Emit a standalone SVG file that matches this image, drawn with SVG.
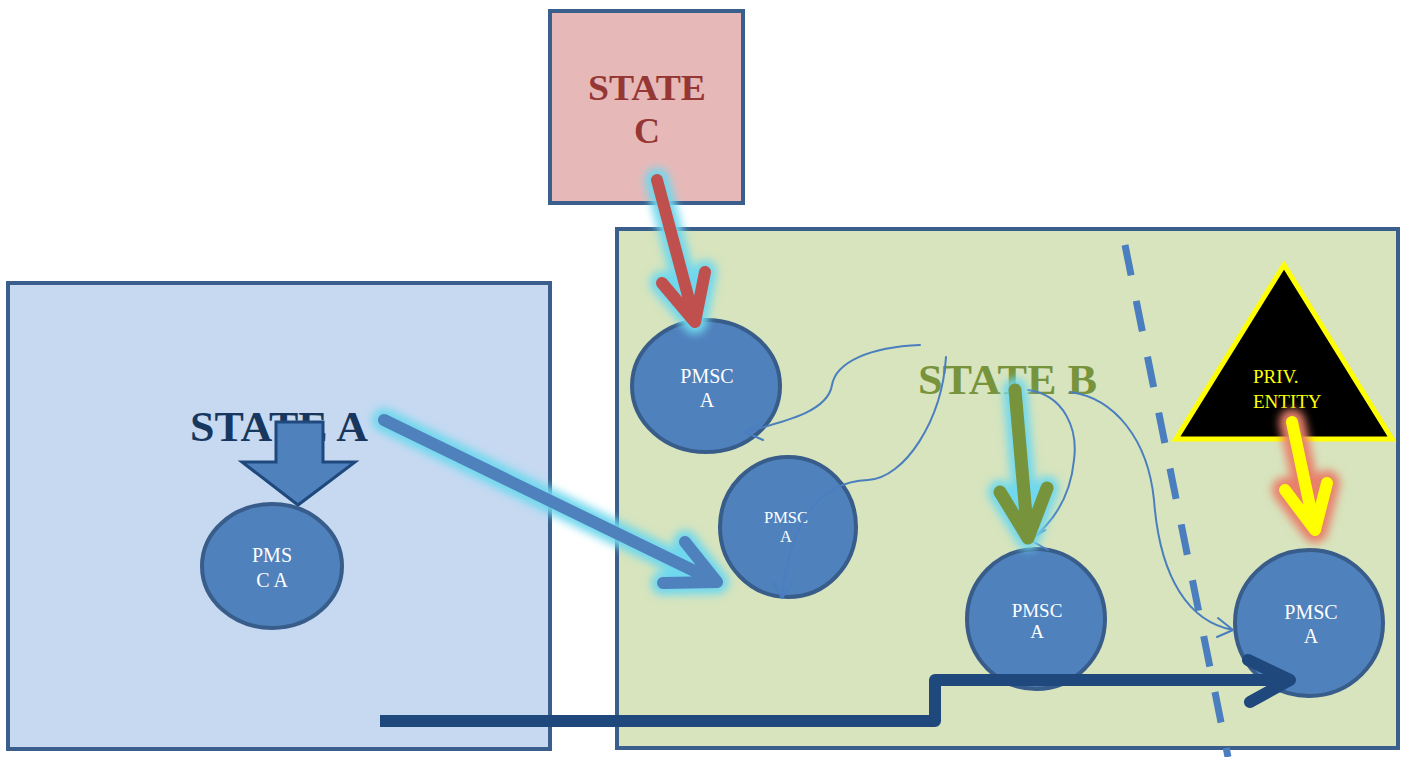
<svg xmlns="http://www.w3.org/2000/svg" width="1406" height="757" viewBox="0 0 1406 757">
  <style>
    .box { stroke: #3a5f8c; stroke-width: 4; }
    .pmsc { fill: #4f81bd; stroke: #385d8a; stroke-width: 4; }
    .pmsc-t { fill: #ffffff; font-family: "Liberation Serif", "Times New Roman", serif; text-anchor: middle; }
    .title { font-family: "Liberation Serif", "Times New Roman", serif; font-weight: bold; }
    .thin { fill: none; stroke: #4a7ebf; stroke-width: 2; stroke-linecap: round; stroke-linejoin: round; }
    .fat { fill: none; stroke-linecap: round; stroke-linejoin: round; }
    .glow-c { fill: none; stroke: #6fd8ee; stroke-width: 24; stroke-linecap: round; stroke-linejoin: round; filter: url(#soft); }
    .glow-r { fill: none; stroke: #e8806b; stroke-width: 26; stroke-linecap: round; stroke-linejoin: round; filter: url(#soft); }
  </style>
  <defs>
    <filter id="soft" filterUnits="userSpaceOnUse" x="0" y="0" width="1406" height="757">
      <feGaussianBlur stdDeviation="4"/>
    </filter>
  </defs>

  <rect width="1406" height="757" fill="#ffffff"/>

  <!-- State C -->
  <g id="state-c">
    <rect class="box" x="550" y="11" width="193" height="192" fill="#e6b9b8"/>
    <text class="title" x="588" y="100" font-size="36" fill="#953735" textLength="118" lengthAdjust="spacingAndGlyphs">STATE</text>
    <text class="title" x="647" y="143" font-size="36" fill="#953735" text-anchor="middle">C</text>
  </g>

  <!-- State B -->
  <g id="state-b">
    <rect class="box" x="617" y="229" width="781" height="519" fill="#d7e4bd"/>
  </g>

  <!-- State A -->
  <g id="state-a">
    <rect class="box" x="8" y="283" width="542" height="466" fill="#c6d9f1"/>
    <text class="title" x="190" y="441" font-size="42" fill="#17375e" textLength="178" lengthAdjust="spacingAndGlyphs">STATE A</text>
    <path d="M276 422 H323 V462 H355 L298 505 L242 462 H276 Z" fill="#4f81bd" stroke="#1f497d" stroke-width="3" stroke-linejoin="miter"/>
  </g>

  <g id="pmsc-a0">
    <ellipse class="pmsc" cx="272" cy="566" rx="70" ry="62"/>
    <text class="pmsc-t" x="272" y="562" font-size="20">PMS</text>
    <text class="pmsc-t" x="272" y="587" font-size="20">C A</text>
  </g>

  <!-- boundary line inside State B -->
  <g id="boundary">
    <line x1="1125" y1="245" x2="1228" y2="757" stroke="#4a7ebf" stroke-width="7" stroke-dasharray="31 26"/>
  </g>

  <g id="state-b-label">
    <text class="title" x="918" y="394" font-size="42" fill="#77933c" textLength="179" lengthAdjust="spacingAndGlyphs">STATE B</text>
  </g>

  <g id="pmsc-b1">
    <ellipse class="pmsc" cx="706" cy="386" rx="74" ry="66"/>
    <text class="pmsc-t" x="707" y="383" font-size="20">PMSC</text>
    <text class="pmsc-t" x="707" y="407" font-size="20">A</text>
  </g>
  <g id="pmsc-b2">
    <ellipse class="pmsc" cx="788" cy="527" rx="68" ry="70"/>
    <text class="pmsc-t" x="786" y="523" font-size="16.5">PMSC</text>
    <text class="pmsc-t" x="786" y="542" font-size="16.5">A</text>
  </g>
  <g id="pmsc-b3">
    <ellipse class="pmsc" cx="1036" cy="619" rx="69" ry="70"/>
    <text class="pmsc-t" x="1037" y="617" font-size="19">PMSC</text>
    <text class="pmsc-t" x="1037" y="638" font-size="19">A</text>
  </g>
  <g id="pmsc-b4">
    <ellipse class="pmsc" cx="1309" cy="623" rx="74" ry="73"/>
    <text class="pmsc-t" x="1311" y="619" font-size="20">PMSC</text>
    <text class="pmsc-t" x="1311" y="643" font-size="20">A</text>
  </g>

  <g id="priv-entity">
    <polygon points="1284,265 1176,439 1392,439" fill="#000000" stroke="#ffff00" stroke-width="5" stroke-linejoin="miter"/>
    <text x="1253" y="383" font-size="19" fill="#ffff00" font-family="Liberation Serif, Times New Roman, serif">PRIV.</text>
    <text x="1253" y="408" font-size="19" fill="#ffff00" font-family="Liberation Serif, Times New Roman, serif">ENTITY</text>
  </g>

  <!-- connectors -->
  <g id="connectors">
    <!-- thin curved links from State B -->
    <path class="thin" d="M920 345 C870 347 836 362 832 385 C828 410 792 420 745 432"/>
    <path class="thin" d="M762 422 L745 432 L763 440"/>
    <path class="thin" d="M946 357 C942 420 905 478 868 480 C820 482 790 520 782 598"/>
    <path class="thin" d="M773 582 L782 598 L792 583"/>
    <path class="thin" d="M1028 390 C1065 395 1078 430 1074 460 C1070 500 1050 525 1030 540"/>
    <path class="thin" d="M1045 530 L1030 540 L1048 550"/>
    <path class="thin" d="M1070 392 C1115 398 1148 440 1154 500 C1160 580 1190 622 1233 630"/>
    <path class="thin" d="M1218 618 L1233 630 L1217 637"/>

    <!-- State C to PMSC -->
    <path class="glow-c" d="M657 180 L695 322 M662 283 L695 322 L705 272"/>
    <path class="fat" d="M657 180 L695 322 M662 283 L695 322 L705 272" stroke="#c0504d" stroke-width="12"/>

    <!-- State A to PMSC -->
    <path class="glow-c" d="M384 420 L717 582 M685 542 L717 582 L663 583"/>
    <path class="fat" d="M384 420 L717 582 M685 542 L717 582 L663 583" stroke="#4f81bd" stroke-width="12"/>

    <!-- State B to PMSC -->
    <path class="glow-c" d="M1015 390 L1028 538 M1000 492 L1028 538 L1047 488"/>
    <path class="fat" d="M1015 390 L1028 538 M1000 492 L1028 538 L1047 488" stroke="#77933c" stroke-width="13"/>

    <!-- Private entity to PMSC -->
    <path class="glow-r" d="M1292 422 L1315 530 M1285 490 L1315 530 L1327 483"/>
    <path class="fat" d="M1292 422 L1315 530 M1285 490 L1315 530 L1327 483" stroke="#ffff00" stroke-width="12"/>

    <!-- stepped link across states -->
    <path d="M380 721 H935 V680 H1288" fill="none" stroke="#1f497d" stroke-width="12" style="stroke-linecap: butt; stroke-linejoin: round"/>
    <path class="fat" d="M1248 660 L1290 680 L1250 702" stroke="#1f497d" stroke-width="12"/>
  </g>
</svg>
